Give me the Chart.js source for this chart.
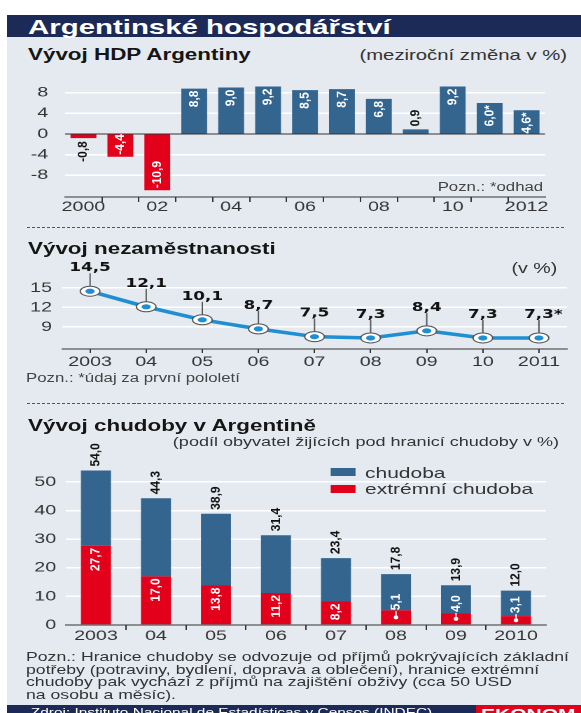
<!DOCTYPE html>
<html lang="cs">
<head>
<meta charset="utf-8">
<title>Argentinské hospodářství</title>
<script src="https://cdn.jsdelivr.net/npm/chart.js@4.4.1/dist/chart.umd.min.js"></script>
<style>
  html, body { margin: 0; padding: 0; background: #fff; overflow: hidden; }
  body { width: 581px; height: 713px; position: relative; font-family: "Liberation Sans", Arial, sans-serif; color: #1a1a1a; }
  /* the whole sheet is laid out 415px wide and stretched to 581 like the source */
  #page { position: absolute; left: 0; top: 0; width: 415px; height: 713px; transform: scaleX(1.4); transform-origin: 0 0; }
  .abs { position: absolute; white-space: nowrap; }
  #head { left: 5px; top: 15px; width: 410px; height: 22px; background: #1c2a58; }
  #panel { left: 5px; top: 37px; width: 410px; height: 668px; background: #e5eaf0; }
  .h1 { color: #fff; font-weight: bold; font-size: 21px; line-height: 21px; }
  .h2 { font-weight: bold; font-size: 16px; line-height: 16px; color: #151515; }
  .sub { color: #333; }
  .sep { height: 1px; background: repeating-linear-gradient(to right, #555 0 2.2px, transparent 2.2px 3.6px); }
  canvas { position: absolute; left: 0; }
  .sw { position: absolute; width: 18.6px; height: 8px; }
  #note { font-size: 12.6px; line-height: 12.5px; color: #333; }
  #foot { left: 5px; top: 705px; width: 410px; height: 10px; background: #1c2a58; }
  #logo { left: 340px; top: 705px; width: 75px; height: 10px; background: #e3001b; }
</style>
</head>
<body>
<div id="page">
  <div id="head" class="abs"></div>
  <div id="panel" class="abs"></div>
  <div class="abs h1" style="left:20px; top:15.5px;">Argentinské hospodářství</div>

  <div class="abs h2" style="left:20px; top:46.5px;">Vývoj HDP Argentiny</div>
  <div class="abs sub" style="right:10px; top:47.7px; font-size:14.5px; line-height:14.5px;">(meziroční změna v %)</div>
  <canvas id="hdpChart" width="415" height="163" style="top:62px;"></canvas>
  <div class="abs sub" style="right:27px; top:181px; font-size:12px; line-height:12px; color:#444;">Pozn.: *odhad</div>
  <div class="abs sep" style="left:18.6px; top:227px; width:385px;"></div>

  <div class="abs h2" style="left:20px; top:240.5px;">Vývoj nezaměstnanosti</div>
  <div class="abs sub" style="right:17px; top:261px; font-size:14px; line-height:14px;">(v %)</div>
  <canvas id="uneChart" width="415" height="112" style="top:258px;"></canvas>
  <div class="abs sub" style="left:18.6px; top:372px; font-size:12px; line-height:12px; color:#444;">Pozn.: *údaj za první pololetí</div>
  <div class="abs sep" style="left:18.6px; top:403px; width:385px;"></div>

  <div class="abs h2" style="left:20px; top:417.5px;">Vývoj chudoby v Argentině</div>
  <div class="abs sub" style="right:15.7px; top:436px; font-size:12.9px; line-height:12.9px;">(podíl obyvatel žijících pod hranicí chudoby v %)</div>
  <canvas id="povChart" width="415" height="207" style="top:438px;"></canvas>
  <div class="sw" style="left:235.7px; top:468px; background:#33658f;"></div>
  <div class="abs sub" style="left:260.7px; top:464.5px; font-size:15px; line-height:15px;">chudoba</div>
  <div class="sw" style="left:235.7px; top:485px; background:#e3001b;"></div>
  <div class="abs sub" style="left:260.7px; top:480.5px; font-size:15px; line-height:15px;">extrémní chudoba</div>

  <div id="note" class="abs" style="left:18.6px; top:651px;">Pozn.: Hranice chudoby se odvozuje od příjmů pokrývajících základní<br>potřeby (potraviny, bydlení, doprava a oblečení), hranice extrémní<br>chudoby pak vychází z příjmů na zajištění obživy (cca 50 USD<br>na osobu a měsíc).</div>

  <div id="foot" class="abs"></div>
  <div class="abs" style="left:22px; top:706.5px; font-size:11px; line-height:11px; color:#fff;">Zdroj: Instituto Nacional de Estadísticas y Censos (INDEC)</div>
  <div id="logo" class="abs"></div>
  <div class="abs" style="left:343.6px; top:706px; font-size:15px; line-height:15px; font-weight:bold; color:#fff;">EKONOM</div>
</div>

<script>
// HDP – year-on-year change in %
const hdpYears = ['2000', '2001', '2002', '2003', '2004', '2005', '2006', '2007', '2008', '2009', '2010', '2011', '2012'];
const hdpTickLabels = ['2000', '', '02', '', '04', '', '06', '', '08', '', '10', '', '2012'];
const hdpValues = [-0.8, -4.4, -10.9, 8.8, 9.0, 9.2, 8.5, 8.7, 6.8, 0.9, 9.2, 6.0, 4.6];
const hdpEstimated = [false, false, false, false, false, false, false, false, false, false, false, true, true];
const hdpTicks = [-8, -4, 0, 4, 8];

// unemployment in %
const uneYears = ['2003', '2004', '2005', '2006', '2007', '2008', '2009', '2010', '2011'];
const uneTickLabels = ['2003', '04', '05', '06', '07', '08', '09', '10', '2011'];
const uneValues = [14.5, 12.1, 10.1, 8.7, 7.5, 7.3, 8.4, 7.3, 7.3];
const uneFirstHalf = [false, false, false, false, false, false, false, false, true];
const uneTicks = [9, 12, 15];

// poverty, share of population in %
const povYears = ['2003', '2004', '2005', '2006', '2007', '2008', '2009', '2010'];
const povTickLabels = ['2003', '04', '05', '06', '07', '08', '09', '2010'];
const povTotal = [54.0, 44.3, 38.9, 31.4, 23.4, 17.8, 13.9, 12.0];
const povExtreme = [27.7, 17.0, 13.8, 11.2, 8.2, 5.1, 4.0, 3.1];
const povTicks = [0, 10, 20, 30, 40, 50];

const BLUE = '#33658f';
const RED = '#e3001b';
const LINE = '#1f8fd2';
const INK = '#333';
const FONT = '"Liberation Sans", Arial, sans-serif';
const LABEL_FONT = 'bold 12px ' + FONT;
const CONDENSE = 0.8;

Chart.defaults.font.family = FONT;
Chart.defaults.color = INK;

const fmt = v => v.toFixed(1).replace('.', ',');

function textLen(ctx, text) {
  ctx.save();
  ctx.font = LABEL_FONT;
  const w = ctx.measureText(text).width;
  ctx.restore();
  return w;
}

// vertical label; 'left' runs upwards from the anchor, 'right' runs downwards
function vText(ctx, text, x, y, align, color) {
  ctx.save();
  ctx.translate(x, y);
  ctx.rotate(-Math.PI / 2);
  ctx.scale(1, CONDENSE);
  ctx.font = LABEL_FONT;
  ctx.fillStyle = color;
  ctx.textAlign = align;
  ctx.textBaseline = 'middle';
  ctx.fillText(text, 0, 0);
  ctx.restore();
}

// tick marks on the category boundaries, without the two ends
const innerTicks = c => (c.index === undefined || c.index === 0) ? 'rgba(0,0,0,0)' : INK;

const hdpLabels = {
  id: 'hdpLabels',
  afterDatasetsDraw(chart) {
    const ctx = chart.ctx;
    chart.getDatasetMeta(0).data.forEach((bar, i) => {
      const v = hdpValues[i];
      const text = fmt(v) + (hdpEstimated[i] ? '*' : '');
      const fits = Math.abs(bar.base - bar.y) >= textLen(ctx, text) * 0.75;
      if (v >= 0) {
        if (fits) vText(ctx, text, bar.x, bar.y + 2, 'right', '#fff');
        else vText(ctx, text, bar.x, bar.y - 3, 'left', '#111');
      } else {
        if (fits) vText(ctx, text, bar.x, bar.y - 2, 'left', '#fff');
        else vText(ctx, text, bar.x, bar.y + 3, 'right', '#111');
      }
    });
  }
};

new Chart(document.getElementById('hdpChart'), {
  type: 'bar',
  data: {
    labels: hdpYears,
    datasets: [{
      data: hdpValues,
      backgroundColor: hdpValues.map(v => v < 0 ? RED : BLUE),
      borderWidth: 0,
      barPercentage: 0.7,
      categoryPercentage: 1
    }]
  },
  options: {
    responsive: false,
    animation: false,
    devicePixelRatio: 2,
    layout: { padding: { top: 8.6, right: 25.7, bottom: 0, left: 0 } },
    plugins: { legend: { display: false }, tooltip: { enabled: false } },
    scales: {
      x: {
        offset: true,
        grid: { offset: true, drawOnChartArea: false, tickLength: 5, color: innerTicks },
        border: { color: INK, width: 1 },
        ticks: {
          autoSkip: false, maxRotation: 0, padding: -2,
          font: { size: 14, lineHeight: 1 },
          callback: (v, i) => hdpTickLabels[i]
        },
        afterFit: s => { s.height = 28; }
      },
      y: {
        min: -12.2,
        max: 10,
        afterBuildTicks: s => { s.ticks = hdpTicks.map(v => ({ value: v })); },
        grid: {
          drawTicks: false,
          color: c => c.tick && c.tick.value === 0 ? INK : '#fff',
          lineWidth: c => c.tick && c.tick.value === 0 ? 1 : 1.5
        },
        border: { display: false },
        ticks: { padding: 12, font: { size: 14 }, callback: v => String(v) },
        afterFit: s => { s.width = 46.4; }
      }
    }
  },
  plugins: [hdpLabels]
});

const uneMarkers = {
  id: 'uneMarkers',
  afterDatasetsDraw(chart) {
    const ctx = chart.ctx;
    chart.getDatasetMeta(0).data.forEach((pt, i) => {
      const x = pt.x, y = pt.y;
      ctx.save();
      ctx.strokeStyle = '#555';
      ctx.lineWidth = 1;
      ctx.beginPath();
      ctx.moveTo(x, y - 5);
      ctx.lineTo(x, y - 18);
      ctx.stroke();
      ctx.beginPath();
      ctx.ellipse(x, y, 7, 5, 0, 0, Math.PI * 2);
      ctx.fillStyle = '#fff';
      ctx.fill();
      ctx.stroke();
      ctx.beginPath();
      ctx.ellipse(x, y, 3.3, 2.6, 0, 0, Math.PI * 2);
      ctx.fillStyle = LINE;
      ctx.fill();
      const num = fmt(uneValues[i]);
      const text = num + (uneFirstHalf[i] ? '*' : '');
      ctx.font = 'bold 12px "DejaVu Sans", ' + FONT;
      ctx.fillStyle = '#111';
      ctx.textAlign = 'left';
      ctx.textBaseline = 'alphabetic';
      ctx.fillText(text, x - ctx.measureText(num).width / 2, y - 20);
      ctx.restore();
    });
  }
};

new Chart(document.getElementById('uneChart'), {
  type: 'line',
  data: {
    labels: uneYears,
    datasets: [{
      data: uneValues,
      borderColor: LINE,
      borderWidth: 3.5,
      pointRadius: 0,
      tension: 0,
      clip: false
    }]
  },
  options: {
    responsive: false,
    animation: false,
    devicePixelRatio: 2,
    layout: { padding: { top: 17, right: 10, bottom: 0, left: 0 } },
    plugins: { legend: { display: false }, tooltip: { enabled: false } },
    scales: {
      x: {
        offset: true,
        grid: { drawOnChartArea: false, tickLength: 4, color: INK },
        border: { color: INK, width: 1 },
        ticks: {
          autoSkip: false, maxRotation: 0, padding: 2,
          font: { size: 14, lineHeight: 1 },
          callback: (v, i) => uneTickLabels[i]
        },
        afterFit: s => { s.height = 21; }
      },
      y: {
        min: 5.6,
        max: 17,
        afterBuildTicks: s => { s.ticks = uneTicks.map(v => ({ value: v })); },
        grid: { drawTicks: false, color: '#fff', lineWidth: 1.5 },
        border: { display: false },
        ticks: { padding: 7.2, font: { size: 14 } },
        afterFit: s => { s.width = 44.3; }
      }
    }
  },
  plugins: [uneMarkers]
});

const povLabels = {
  id: 'povLabels',
  afterDatasetsDraw(chart) {
    const ctx = chart.ctx;
    const red = chart.getDatasetMeta(0).data;
    const blue = chart.getDatasetMeta(1).data;
    blue.forEach((bar, i) => {
      vText(ctx, fmt(povTotal[i]), bar.x, bar.y - 4, 'left', '#111');
    });
    red.forEach((bar, i) => {
      const text = fmt(povExtreme[i]);
      const len = Math.abs(bar.base - bar.y);
      if (len >= textLen(ctx, text) + 5) {
        vText(ctx, text, bar.x, bar.y + 2, 'right', '#fff');
      } else {
        const dy = (bar.y + bar.base) / 2;
        ctx.save();
        ctx.fillStyle = '#fff';
        ctx.strokeStyle = '#fff';
        ctx.lineWidth = 1;
        ctx.beginPath();
        ctx.ellipse(bar.x, dy, 1.6, 2, 0, 0, Math.PI * 2);
        ctx.fill();
        ctx.beginPath();
        ctx.moveTo(bar.x, dy);
        ctx.lineTo(bar.x, dy - 6);
        ctx.stroke();
        ctx.restore();
        vText(ctx, text, bar.x, dy - 7, 'left', '#fff');
      }
    });
  }
};

new Chart(document.getElementById('povChart'), {
  type: 'bar',
  data: {
    labels: povYears,
    datasets: [
      {
        label: 'extrémní chudoba',
        data: povExtreme,
        backgroundColor: RED,
        borderWidth: 0,
        barPercentage: 0.5,
        categoryPercentage: 1
      },
      {
        label: 'chudoba',
        data: povTotal.map((t, i) => +(t - povExtreme[i]).toFixed(1)),
        backgroundColor: BLUE,
        borderWidth: 0,
        barPercentage: 0.5,
        categoryPercentage: 1
      }
    ]
  },
  options: {
    responsive: false,
    animation: false,
    devicePixelRatio: 2,
    layout: { padding: { top: 13, right: 25, bottom: 0, left: 0 } },
    plugins: { legend: { display: false }, tooltip: { enabled: false } },
    scales: {
      x: {
        stacked: true,
        offset: true,
        grid: { offset: true, drawOnChartArea: false, tickLength: 5, color: innerTicks },
        border: { color: INK, width: 1 },
        ticks: {
          autoSkip: false, maxRotation: 0, padding: -1,
          font: { size: 14, lineHeight: 1 },
          callback: (v, i) => povTickLabels[i]
        },
        afterFit: s => { s.height = 20; }
      },
      y: {
        stacked: true,
        min: 0,
        max: 60,
        afterBuildTicks: s => { s.ticks = povTicks.map(v => ({ value: v })); },
        grid: {
          drawTicks: false,
          color: c => c.tick && c.tick.value === 0 ? 'rgba(0,0,0,0)' : '#fff',
          lineWidth: 1.5
        },
        border: { display: false },
        ticks: { padding: 7, font: { size: 14 } },
        afterFit: s => { s.width = 47.1; }
      }
    }
  },
  plugins: [povLabels]
});
</script>
</body>
</html>
